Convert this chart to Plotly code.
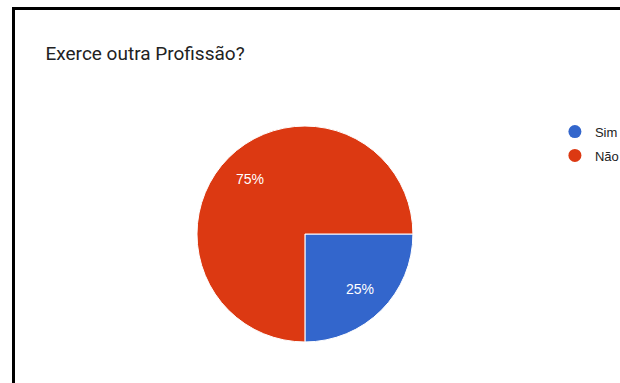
import math
import plotly.graph_objects as go

title = "Exerce outra Profissão?"
categories = ["Sim", "Não"]
values = [25, 75]
colors = ["#3366cc", "#dc3912"]

W, H = 620, 383
dom_x = [0.3177, 0.666]
dom_y = [0.107, 0.671]

fig = go.Figure()
fig.add_trace(go.Pie(
    labels=categories, values=values, sort=False, direction="clockwise",
    rotation=90, marker=dict(colors=colors, line=dict(color="white", width=1)),
    textinfo="none", showlegend=False, hoverinfo="label+percent",
    domain=dict(x=dom_x, y=dom_y),
))
for c, col in zip(categories, colors):
    fig.add_trace(go.Scatter(x=[None], y=[None], mode="markers", name=c,
                             legendgroup=c,
                             marker=dict(color=col, size=13, symbol="circle")))

# percentage labels placed at each slice's mid-angle (computed from values)
cx = (dom_x[0] + dom_x[1]) / 2
cy = (dom_y[0] + dom_y[1]) / 2
r_px = min((dom_x[1] - dom_x[0]) * W, (dom_y[1] - dom_y[0]) * H) / 2
total = sum(values)
annotations = []
cum = 0.0
for v in values:
    frac = v / total
    mid = -(cum + frac / 2) * 2 * math.pi  # start at 3 o'clock, clockwise
    cum += frac
    d = 0.72 * r_px
    annotations.append(dict(
        x=cx + d * math.cos(mid) / W, y=cy + d * math.sin(mid) / H,
        xref="paper", yref="paper", showarrow=False,
        xanchor="center", yanchor="middle",
        text=f"{round(frac * 100)}%",
        font=dict(family="Arial, Liberation Sans", size=14, color="white"),
    ))

border = dict(color="black", width=3)
fig.update_layout(
    width=W, height=H, margin=dict(l=0, r=0, t=0, b=0, autoexpand=False),
    paper_bgcolor="white", plot_bgcolor="white",
    xaxis=dict(visible=False), yaxis=dict(visible=False),
    title=dict(text=title, x=45.5/W, xanchor="left", y=1-53/H, yanchor="middle",
               font=dict(family="Roboto, Arial", size=19, color="#222222")),
    legend=dict(x=0.895, y=0.6956, xanchor="left", yanchor="top",
                font=dict(family="Arial, Liberation Sans", size=13, color="#222222"),
                tracegroupgap=4, itemwidth=30, bgcolor="rgba(0,0,0,0)"),
    annotations=annotations,
    shapes=[
        dict(type="line", xref="paper", yref="paper",
             x0=13.5/W, x1=13.5/W, y0=0, y1=1-7/H, line=border),
        dict(type="line", xref="paper", yref="paper",
             x0=12/W, x1=1, y0=1-8.5/H, y1=1-8.5/H, line=border),
    ],
)
fig.write_html("out.html")
